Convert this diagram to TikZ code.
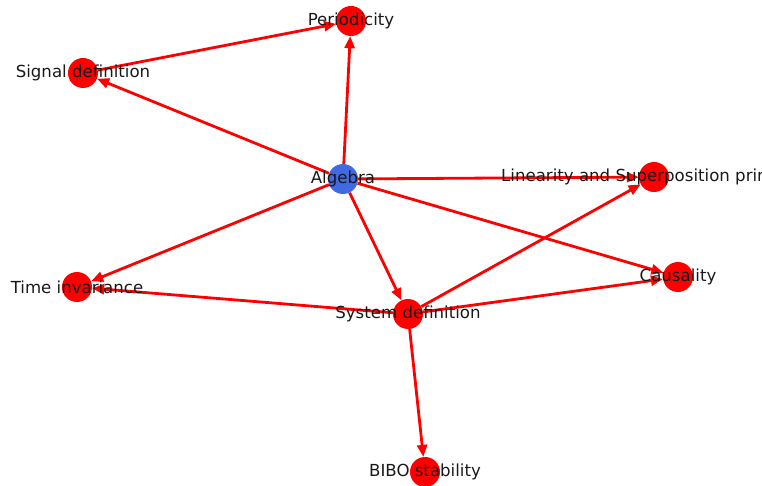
\documentclass[tikz,border=0pt]{standalone}
\usepackage{fontspec}
\setmainfont{DejaVu Sans}
\usetikzlibrary{arrows.meta}
\definecolor{royal}{RGB}{65,105,225}
\begin{document}
\begin{tikzpicture}
		[x=1pt, y=-1pt,
		mynode/.style={
			circle,
			fill=red,
			inner sep=0pt,
			minimum size=30pt
		},
		rootnode/.style={mynode,fill=royal},
		mylabel/.style={text=black!90,inner sep=0pt,font=\fontsize{16.6}{20}\selectfont},
		myedge/.style={draw=red,line width=2.8pt,-{Triangle[length=12pt,width=10pt]}}]
		\useasboundingbox (0,0) rectangle (762,486);
		\clip (0,0) rectangle (762,486);
		% nodes
		\node[rootnode] (alg) at (343,179) {};
		\node[mynode] (per) at (351,21) {};
		\node[mynode] (sig) at (83,73) {};
		\node[mynode] (lin) at (654,177) {};
		\node[mynode] (tim) at (77,287) {};
		\node[mynode] (sys) at (408,314) {};
		\node[mynode] (cau) at (678,277) {};
		\node[mynode] (bib) at (425,472) {};
		% edges
		\draw[myedge] (alg) -- (per);
		\draw[myedge] (alg) -- (sig);
		\draw[myedge] (alg) -- (lin);
		\draw[myedge] (alg) -- (tim);
		\draw[myedge] (alg) -- (sys);
		\draw[myedge] (alg) -- (cau);
		\draw[myedge] (sig) -- (per);
		\draw[myedge] (sys) -- (tim);
		\draw[myedge] (sys) -- (cau);
		\draw[myedge] (sys) -- (lin);
		\draw[myedge] (sys) -- (bib);
		% labels
		\node[mylabel] (alg-t) at (alg) {Algebra};
		\node[mylabel] (per-t) at (per) {Periodicity};
		\node[mylabel] (sig-t) at (sig) {Signal definition};
		\node[mylabel] (lin-t) at (lin) {Linearity and Superposition principle};
		\node[mylabel] (tim-t) at (tim) {Time invariance};
		\node[mylabel] (sys-t) at (sys) {System definition};
		\node[mylabel] (cau-t) at (cau) {Causality};
		\node[mylabel] (bib-t) at (bib) {BIBO stability};
\end{tikzpicture}
\end{document}
